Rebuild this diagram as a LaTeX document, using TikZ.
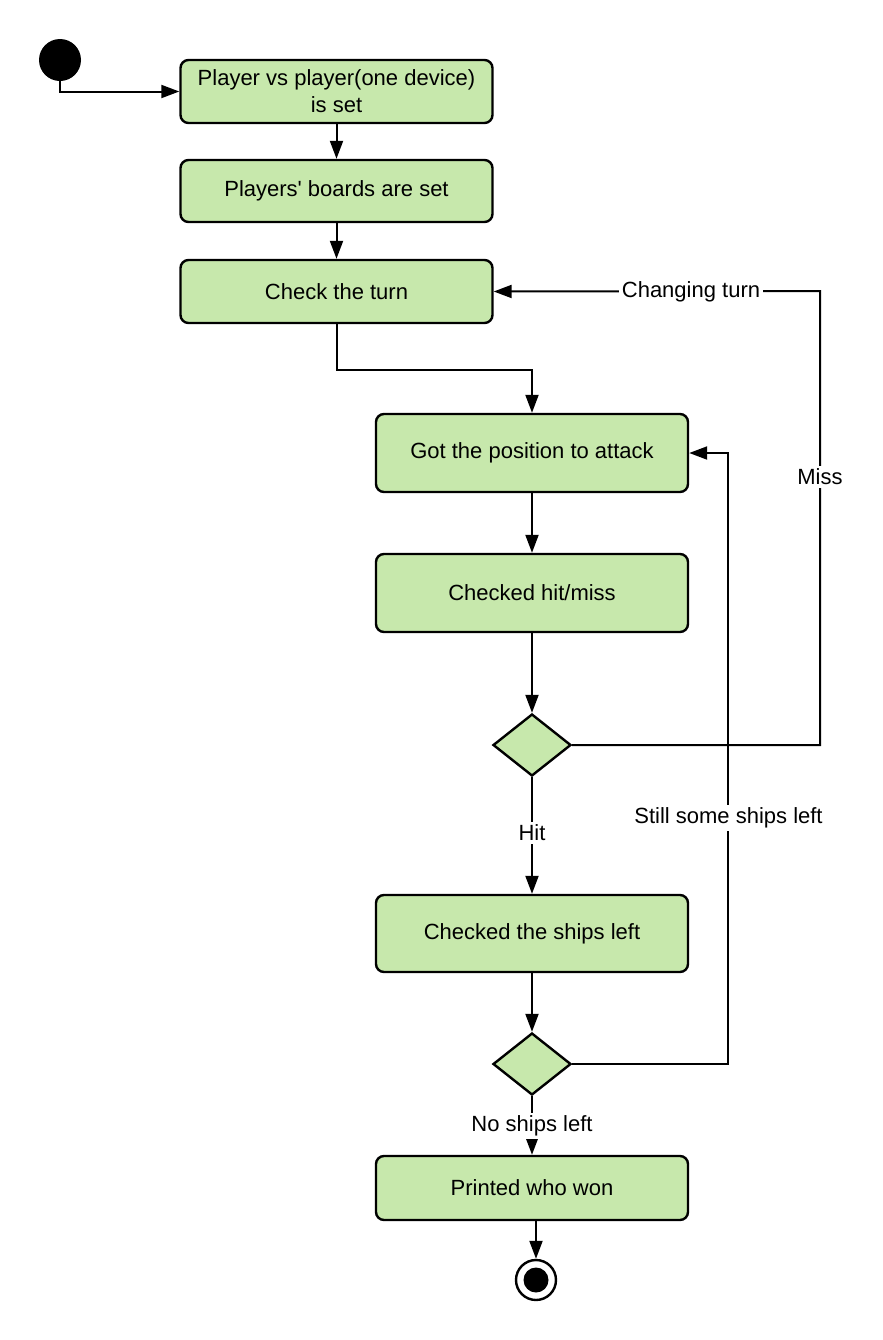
\documentclass[tikz,border=0pt]{standalone}
\usepackage{fontspec}
\setmainfont{Liberation Sans}
\usetikzlibrary{shapes.geometric, shapes.misc, arrows.meta, positioning}
\definecolor{actgreen}{HTML}{C7E8AC}

\begin{document}
\begin{tikzpicture}[x=0.5pt, y=-0.5pt,
        action/.style={rectangle, rounded corners=4pt, draw=black, line width=1.2pt, fill=actgreen,
            minimum width=156pt, align=center, font=\fontsize{11}{13.5}\selectfont},
        decision/.style={diamond, draw=black, line width=1.2pt, fill=actgreen,
            minimum width=39pt, minimum height=31pt, inner sep=0pt},
        flow/.style={line width=1pt, -{Triangle[length=9pt, width=6.5pt]}},
        guard/.style={fill=white, inner sep=1.5pt, font=\fontsize{11}{13}\selectfont}]

        \useasboundingbox (0,0) rectangle (883,1340);

        % Start and end states
        \node[circle, fill=black, minimum size=21pt, inner sep=0pt] (start) at (60,60) {};
        \node[circle, draw=black, line width=1.2pt, fill=white, minimum size=20pt, inner sep=0pt] (end) at (536,1280) {};
        \node[circle, fill=black, minimum size=12.5pt, inner sep=0pt] (endDot) at (536,1280) {};

        % Actions
        \node[action, minimum height=31.5pt] (setMode) at (336.5,91.5) {Player vs player(one device)\\is set};
        \node[action, minimum height=31pt] (setBoards) at (336.5,191) {Players\textquotesingle{} boards are set};
        \node[action, minimum height=31.5pt] (checkTurn) at (336.5,291.5) {Check the turn};
        \node[action, minimum height=39pt] (getPos) at (532,453) {Got the position to attack};
        \node[action, minimum height=39pt] (checkHit) at (532,593) {Checked hit/miss};
        \node[action, minimum height=38.5pt] (checkShips) at (532,933.5) {Checked the ships left};
        \node[action, minimum height=32pt] (printWin) at (532,1188) {Printed who won};

        % Decisions
        \node[decision] (hitMiss) at (532,745) {};
        \node[decision] (shipsLeft) at (532,1064) {};

        \coordinate (missTurn) at (820,291);
        \coordinate (stillShips) at (728,453);

        % Straight flows
        \draw[flow] (start.south) |- (setMode.west);
        \foreach \a/\b in {setMode/setBoards, setBoards/checkTurn, getPos/checkHit, checkHit/hitMiss, checkShips/shipsLeft}
            \draw[flow] (\a.south) -- (\b.north);
        \draw[flow] (checkTurn.south) -- ++(0,46) -| (getPos.north);
        \draw[flow] (hitMiss.south) -- (checkShips.north);
        \draw[flow] (shipsLeft.south) -- (printWin.north);
        \draw[flow] (end.north |- printWin.south) -- (end.north);

        % Loops back
        \draw[flow] (hitMiss.east) -| (missTurn) -- (checkTurn.east);
        \draw[flow] (shipsLeft.east) -| (stillShips) -- (getPos.east);

        % Guards
        \node[guard] (lblTurn) at (691,292) {Changing turn};
        \node[guard] (lblMiss) at (820,477) {Miss};
        \node[guard] (lblStill) at (728.5,818) {Still some ships left};
        \node[guard] (lblHit) at (532,833) {Hit};
        \node[guard] (lblNone) at (532,1126) {No ships left};

\end{tikzpicture}
\end{document}
